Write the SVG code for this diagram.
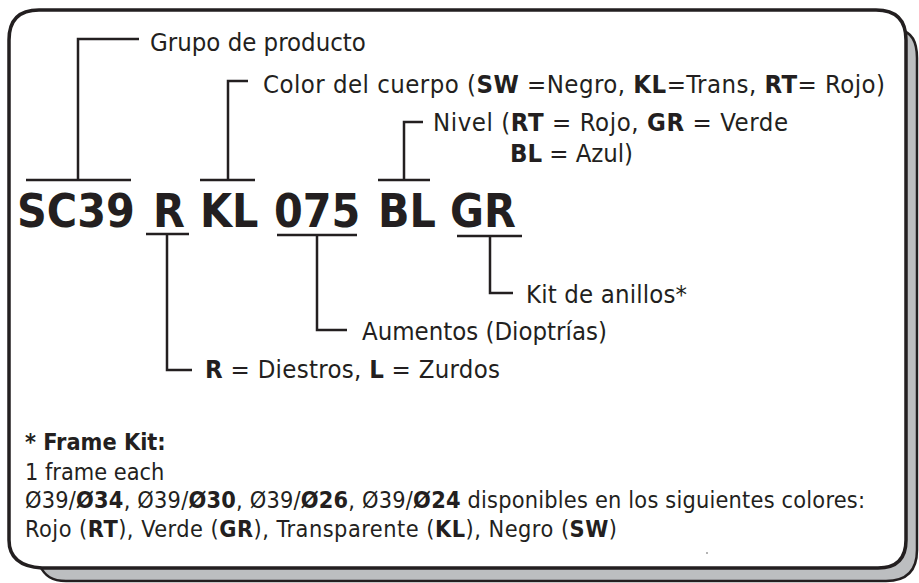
<svg xmlns="http://www.w3.org/2000/svg" width="919" height="583" viewBox="0 0 919 583">
<style>
.lbl{font-family:"DejaVu Sans Condensed","DejaVu Sans",sans-serif;font-stretch:condensed;font-size:25.5px;fill:#231f20}
.code{font-family:"DejaVu Sans Condensed","DejaVu Sans",sans-serif;font-stretch:condensed;font-weight:bold;font-size:46px;fill:#231f20}
.note{font-family:"DejaVu Sans Condensed","DejaVu Sans",sans-serif;font-stretch:condensed;font-size:23.3px;fill:#231f20}
.b{font-weight:bold}
.ln{fill:none;stroke:#231f20;stroke-width:2.5}
</style>
<rect width="919" height="583" fill="#fff"/>
<g id="frame">
<path d="M900,30 C912,32 917,42 917,58 L917,550 Q917,581 886,581 L66,581 C52,581 45,576 40,566 L40,560 Z" fill="#bcbec0" stroke="#231f20" stroke-width="2.5"/>
<path d="M39,10 L876,10 Q906,10 906,40 L906,540 Q906,568 878,568 L42,568 Q9,566 9,540 L9,40 Q9,10 39,10 Z" fill="#fff" stroke="#231f20" stroke-width="3.5"/>
</g>
<g id="connectors">
<path class="ln" d="M26,180 H131 M78,180 V39 H139"/>
<path class="ln" d="M200,180 H255 M228,180 V81 H248"/>
<path class="ln" d="M378,180 H430 M404,180 V122 H423"/>
<path class="ln" d="M146,234 H189 M167,234 V370 H192"/>
<path class="ln" d="M277,235 H357 M317,235 V330 H347"/>
<path class="ln" d="M457,236 H522 M490,236 V293 H513"/>
</g>
<g id="code">
<text class="code" x="17" y="227">SC39</text>
<text class="code" x="153" y="227">R</text>
<text class="code" x="200" y="227">KL</text>
<text class="code" x="274" y="227">075</text>
<text class="code" x="378" y="227">BL</text>
<text class="code" x="450" y="227">GR</text>
</g>
<g id="grupo"><text class="lbl" x="150" y="51">Grupo de producto</text></g>
<g id="color"><text class="lbl" x="263" y="93" textLength="622" lengthAdjust="spacing">Color del cuerpo (<tspan class="b">SW</tspan> =Negro, <tspan class="b">KL</tspan>=Trans, <tspan class="b">RT</tspan>= Rojo)</text></g>
<g id="nivel">
<text class="lbl" x="433" y="131" textLength="355" lengthAdjust="spacing">Nivel (<tspan class="b">RT</tspan> = Rojo, <tspan class="b">GR</tspan> = Verde</text>
<text class="lbl" x="510" y="162" textLength="123" lengthAdjust="spacing"><tspan class="b">BL</tspan> = Azul)</text>
</g>
<g id="kit"><text class="lbl" x="526" y="303" textLength="161" lengthAdjust="spacing">Kit de anillos*</text></g>
<g id="aumentos"><text class="lbl" x="362" y="340">Aumentos (Dioptrías)</text></g>
<g id="mano"><text class="lbl" x="205" y="378" textLength="295" lengthAdjust="spacing"><tspan class="b">R</tspan> = Diestros, <tspan class="b">L</tspan> = Zurdos</text></g>
<g id="framekit">
<text class="note" x="25" y="450"><tspan class="b">* Frame Kit:</tspan></text>
<text class="note" x="25" y="480">1 frame each</text>
<text class="note" x="25" y="508" textLength="840" lengthAdjust="spacing">Ø39/<tspan class="b">Ø34</tspan>, Ø39/<tspan class="b">Ø30</tspan>, Ø39/<tspan class="b">Ø26</tspan>, Ø39/<tspan class="b">Ø24</tspan> disponibles en los siguientes colores:</text>
<text class="note" x="25" y="537" textLength="592" lengthAdjust="spacing">Rojo (<tspan class="b">RT</tspan>), Verde (<tspan class="b">GR</tspan>), Transparente (<tspan class="b">KL</tspan>), Negro (<tspan class="b">SW</tspan>)</text>
</g>
<circle cx="707" cy="553" r="0.8" fill="#555"/>
</svg>
